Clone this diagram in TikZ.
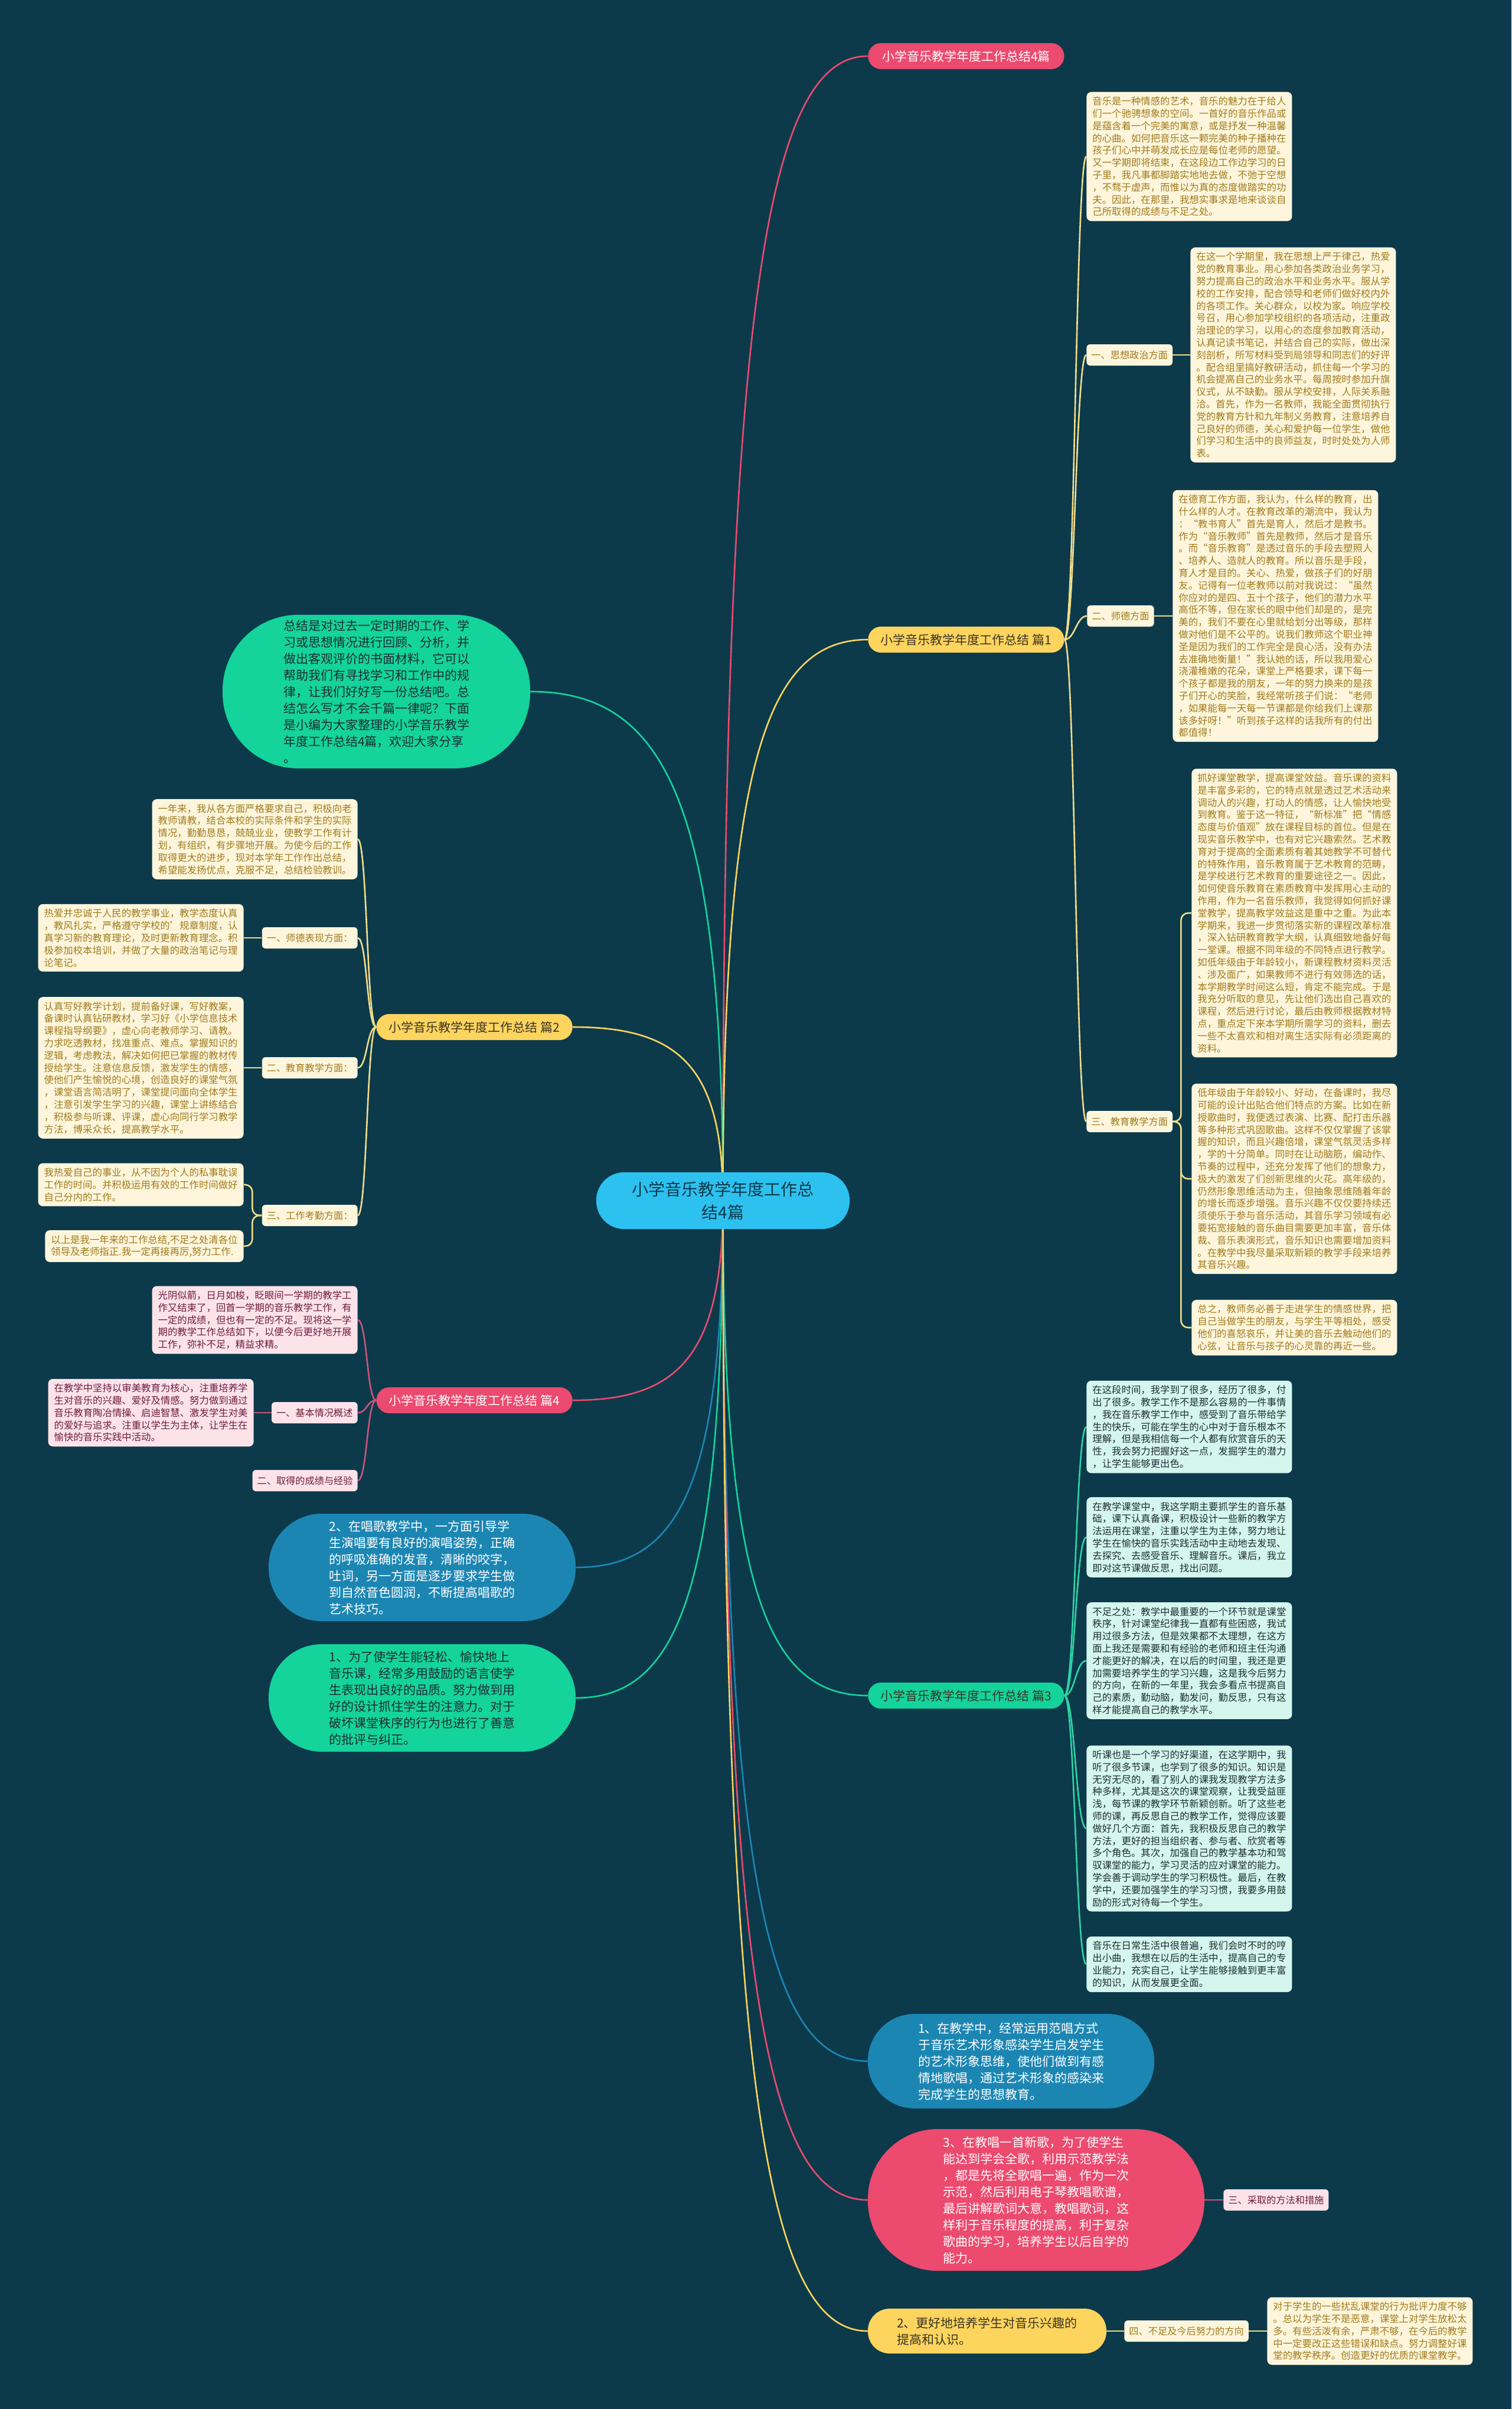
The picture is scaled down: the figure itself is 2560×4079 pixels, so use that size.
\documentclass[tikz,border=0pt]{standalone}
\usepackage{fontspec}
\setmainfont{Noto Sans CJK SC}

\definecolor{bgcol}{HTML}{0C3A4B}
\definecolor{rootcol}{HTML}{2DC1EF}
\definecolor{pinkcol}{HTML}{EC4A6E}
\definecolor{yellowcol}{HTML}{FCD45E}
\definecolor{greencol}{HTML}{14D39B}
\definecolor{bluecol}{HTML}{1C86B3}
\definecolor{creamcol}{HTML}{FEF6DC}
\definecolor{goldtext}{HTML}{A07A1E}
\definecolor{mintcol}{HTML}{D5F6EE}
\definecolor{rosecol}{HTML}{FCE3EA}
\definecolor{maroontext}{HTML}{6E1D3C}
\definecolor{darktext}{HTML}{1D2D33}
\definecolor{brtext}{HTML}{3A3424}
\definecolor{yline}{HTML}{F1DC8A}
\definecolor{pline}{HTML}{C7557A}
\definecolor{gline}{HTML}{2FD3A5}

\newcommand{\rootfont}{\fontsize{14}{19.5}\selectfont}
\newcommand{\brfont}{\fontsize{10.5}{13}\selectfont}
\newcommand{\bubfont}{\fontsize{10.5}{14}\selectfont}
\newcommand{\blkfont}{\fontsize{8.2}{10.4}\selectfont}
\newcommand{\lblfont}{\fontsize{8.1}{10}\selectfont}

\pgfdeclarelayer{bg}
\pgfdeclarelayer{lines}
\pgfsetlayers{bg,lines,main}

\tikzset{
  rootnode/.style={fill=rootcol, text=bgcol, font=\rootfont, align=center, rounded corners=23.5pt, minimum width=214.5pt, minimum height=48pt, inner sep=2pt},
  branchnode/.style={fill=#1, font=\brfont, rounded corners=10.8pt, minimum width=166pt, minimum height=22pt, inner sep=2pt},
  bubble/.style={fill=#1, font=\bubfont, align=left, inner sep=2pt},
  block/.style={fill=#1, font=\blkfont, align=left, inner xsep=5pt, inner ysep=4pt, rounded corners=4pt},
  yblock/.style={block=creamcol, text=goldtext},
  gblock/.style={block=mintcol, text=darktext},
  pblock/.style={block=rosecol, text=maroontext},
  tag/.style={fill=#1, font=\lblfont, inner xsep=4pt, inner ysep=2pt, minimum height=18pt, rounded corners=3pt},
  ytag/.style={tag=creamcol, text=goldtext},
  ptag/.style={tag=rosecol, text=maroontext},
  link/.style={draw=#1, line width=1.3pt},
}

\begin{document}
\begin{tikzpicture}[x=0.5pt,y=0.5pt,yscale=-1]
% page, in pixels of the reference
\useasboundingbox (0,0) rectangle (2560,4079);
\begin{pgfonlayer}{bg}
\fill[bgcol] (0,0) rectangle (2560,4079);
\end{pgfonlayer}

% Root
\node[rootnode] (root) at (1224.5,2033) {小学音乐教学年度工作总\\结4篇};

% Main topics
\node[branchnode=pinkcol, text=white, anchor=west] (top) at (1470,95) {小学音乐教学年度工作总结4篇};
\node[branchnode=yellowcol, text=brtext, anchor=west] (p1) at (1470,1083) {小学音乐教学年度工作总结 篇1};
\node[branchnode=yellowcol, text=brtext, anchor=east] (p2) at (970,1739) {小学音乐教学年度工作总结 篇2};
\node[branchnode=greencol, text=brtext, anchor=west] (p3) at (1470,2871) {小学音乐教学年度工作总结 篇3};
\node[branchnode=pinkcol, text=white, anchor=east] (p4) at (970,2371) {小学音乐教学年度工作总结 篇4};

% Bubbles
\node[bubble=greencol, text=darktext, minimum width=260.5pt, minimum height=130pt, rounded corners=64pt] (intro) at (637.5,1171) {总结是对过去一定时期的工作、学\\习或思想情况进行回顾、分析，并\\做出客观评价的书面材料，它可以\\帮助我们有寻找学习和工作中的规\\律，让我们好好写一份总结吧。总\\结怎么写才不会千篇一律呢？下面\\是小编为大家整理的小学音乐教学\\年度工作总结4篇，欢迎大家分享\\。};
\node[bubble=bluecol, text=white, minimum width=260pt, minimum height=91pt, rounded corners=45pt] (sing) at (715,2654) {2、在唱歌教学中，一方面引导学\\生演唱要有良好的演唱姿势，正确\\的呼吸准确的发音，清晰的咬字，\\吐词，另一方面是逐步要求学生做\\到自然音色圆润，不断提高唱歌的\\艺术技巧。};
\node[bubble=greencol, text=darktext, minimum width=260pt, minimum height=91pt, rounded corners=45pt] (ease) at (715,2875) {1、为了使学生能轻松、愉快地上\\音乐课，经常多用鼓励的语言使学\\生表现出良好的品质。努力做到用\\好的设计抓住学生的注意力。对于\\破坏课堂秩序的行为也进行了善意\\的批评与纠正。};
\node[bubble=bluecol, text=white, minimum width=242.5pt, minimum height=80pt, rounded corners=39.5pt] (demo) at (1712.5,3490) {1、在教学中，经常运用范唱方式\\于音乐艺术形象感染学生启发学生\\的艺术形象思维，使他们做到有感\\情地歌唱，通过艺术形象的感染来\\完成学生的思想教育。};
\node[bubble=pinkcol, text=white, minimum width=285pt, minimum height=120pt, rounded corners=59pt] (teach) at (1755,3725) {3、在教唱一首新歌，为了使学生\\能达到学会全歌，利用示范教学法\\，都是先将全歌唱一遍，作为一次\\示范，然后利用电子琴教唱歌谱，\\最后讲解歌词大意，教唱歌词，这\\样利于音乐程度的提高，利于复杂\\歌曲的学习，培养学生以后自学的\\能力。};
\node[bubble=yellowcol, text=brtext, minimum width=202pt, minimum height=38pt, rounded corners=18.5pt] (interest) at (1672,3947) {2、更好地培养学生对音乐兴趣的\\提高和认识。};

% Topic 1
\node[yblock, anchor=west] (text1) at (1840,265) {音乐是一种情感的艺术，音乐的魅力在于给人\\们一个驰骋想象的空间。一首好的音乐作品或\\是蕴含着一个完美的寓意，或是抒发一种温馨\\的心曲。如何把音乐这一颗完美的种子播种在\\孩子们心中并萌发成长应是每位老师的愿望。\\又一学期即将结束，在这段边工作边学习的日\\子里，我凡事都脚踏实地地去做，不弛于空想\\，不骛于虚声，而惟以为真的态度做踏实的功\\夫。因此，在那里，我想实事求是地来谈谈自\\己所取得的成绩与不足之处。};
\node[ytag, anchor=west] (lbl11) at (1840,601) {一、思想政治方面};
\node[yblock, anchor=west] (text2) at (2016,601) {在这一个学期里，我在思想上严于律己，热爱\\党的教育事业。用心参加各类政治业务学习，\\努力提高自己的政治水平和业务水平。服从学\\校的工作安排，配合领导和老师们做好校内外\\的各项工作。关心群众，以校为家。响应学校\\号召，用心参加学校组织的各项活动，注重政\\治理论的学习，以用心的态度参加教育活动，\\认真记读书笔记，并结合自己的实际，做出深\\刻剖析，所写材料受到局领导和同志们的好评\\。配合组里搞好教研活动，抓住每一个学习的\\机会提高自己的业务水平。每周按时参加升旗\\仪式，从不缺勤。服从学校安排，人际关系融\\洽。首先，作为一名教师，我能全面贯彻执行\\党的教育方针和九年制义务教育，注意培养自\\己良好的师德，关心和爱护每一位学生，做他\\们学习和生活中的良师益友，时时处处为人师\\表。};
\node[ytag, anchor=west] (lbl12) at (1841,1043) {二、师德方面};
\node[yblock, anchor=west] (text3) at (1986,1043) {在德育工作方面，我认为，什么样的教育，出\\什么样的人才。在教育改革的潮流中，我认为\\：“教书育人”首先是育人，然后才是教书。\\作为“音乐教师”首先是教师，然后才是音乐\\。而“音乐教育”是透过音乐的手段去塑照人\\、培养人、造就人的教育。所以音乐是手段，\\育人才是目的。关心、热爱，做孩子们的好朋\\友。记得有一位老教师以前对我说过：“虽然\\你应对的是四、五十个孩子，他们的潜力水平\\高低不等，但在家长的眼中他们却是的，是完\\美的，我们不要在心里就给划分出等级，那样\\做对他们是不公平的。说我们教师这个职业神\\圣是因为我们的工作完全是良心活，没有办法\\去准确地衡量！”我认她的话，所以我用爱心\\浇灌稚嫩的花朵，课堂上严格要求，课下每一\\个孩子都是我的朋友，一年的努力换来的是孩\\子们开心的笑脸，我经常听孩子们说：“老师\\，如果能每一天每一节课都是你给我们上课那\\该多好呀！”听到孩子这样的话我所有的付出\\都值得！};
\node[ytag, anchor=west] (lbl13) at (1840,1899) {三、教育教学方面};
\node[yblock, anchor=west] (text4) at (2018,1546) {抓好课堂教学，提高课堂效益。音乐课的资料\\是丰富多彩的，它的特点就是透过艺术活动来\\调动人的兴趣，打动人的情感，让人愉快地受\\到教育。鉴于这一特征，“新标准”把“情感\\态度与价值观”放在课程目标的首位。但是在\\现实音乐教学中，也有对它兴趣索然。艺术教\\育对于提高的全面素质有着其她教学不可替代\\的特殊作用，音乐教育属于艺术教育的范畴，\\是学校进行艺术教育的重要途径之一。因此，\\如何使音乐教育在素质教育中发挥用心主动的\\作用，作为一名音乐教师，我觉得如何抓好课\\堂教学，提高教学效益这是重中之重。为此本\\学期来，我进一步贯彻落实新的课程改革标准\\，深入钻研教育教学大纲，认真细致地备好每\\一堂课。根据不同年级的不同特点进行教学。\\如低年级由于年龄较小，新课程教材资料灵活\\、涉及面广，如果教师不进行有效筛选的话，\\本学期教学时间这么短，肯定不能完成。于是\\我充分听取的意见，先让他们选出自己喜欢的\\课程，然后进行讨论，最后由教师根据教材特\\点，重点定下来本学期所需学习的资料，删去\\一些不太喜欢和相对离生活实际有必须距离的\\资料。};
\node[yblock, anchor=west] (text5) at (2018,1996) {低年级由于年龄较小、好动，在备课时，我尽\\可能的设计出贴合他们特点的方案。比如在新\\授歌曲时，我便透过表演、比赛、配打击乐器\\等多种形式巩固歌曲。这样不仅仅掌握了该掌\\握的知识，而且兴趣倍增，课堂气氛灵活多样\\，学的十分简单。同时在让动脑筋，编动作、\\节奏的过程中，还充分发挥了他们的想象力，\\极大的激发了们创新思维的火花。高年级的，\\仍然形象思维活动为主，但抽象思维随着年龄\\的增长而逐步增强。音乐兴趣不仅仅要持续还\\须使乐于参与音乐活动，其音乐学习领域有必\\要拓宽接触的音乐曲目需要更加丰富，音乐体\\裁、音乐表演形式，音乐知识也需要增加资料\\。在教学中我尽量采取新颖的教学手段来培养\\其音乐兴趣。};
\node[yblock, anchor=west] (text6) at (2018,2248) {总之，教师务必善于走进学生的情感世界，把\\自己当做学生的朋友，与学生平等相处，感受\\他们的喜怒哀乐，并让美的音乐去触动他们的\\心弦，让音乐与孩子的心灵靠的再近一些。};

% Topic 2
\node[yblock, anchor=east] (text13) at (606,1421) {一年来，我从各方面严格要求自己，积极向老\\教师请教，结合本校的实际条件和学生的实际\\情况，勤勤恳恳，兢兢业业，使教学工作有计\\划，有组织，有步骤地开展。为使今后的工作\\取得更大的进步，现对本学年工作作出总结，\\希望能发扬优点，克服不足，总结检验教训。};
\node[ytag, anchor=east] (lbl21) at (606,1588) {一、师德表现方面：};
\node[yblock, anchor=east] (text14) at (413,1588) {热爱并忠诚于人民的教学事业，教学态度认真\\，教风扎实，严格遵守学校的'规章制度，认\\真学习新的教育理论，及时更新教育理念。积\\极参加校本培训，并做了大量的政治笔记与理\\论笔记。};
\node[ytag, anchor=east] (lbl22) at (606,1808) {二、教育教学方面：};
\node[yblock, anchor=east] (text15) at (413,1808) {认真写好教学计划，提前备好课，写好教案，\\备课时认真钻研教材，学习好《小学信息技术\\课程指导纲要》，虚心向老教师学习、请教。\\力求吃透教材，找准重点、难点。掌握知识的\\逻辑，考虑教法，解决如何把已掌握的教材传\\授给学生。注意信息反馈，激发学生的情感，\\使他们产生愉悦的心境，创造良好的课堂气氛\\，课堂语言简洁明了，课堂提问面向全体学生\\，注意引发学生学习的兴趣，课堂上讲练结合\\，积极参与听课、评课，虚心向同行学习教学\\方法，博采众长，提高教学水平。};
\node[ytag, anchor=east] (lbl23) at (606,2058) {三、工作考勤方面：};
\node[yblock, anchor=east] (text16) at (413,2006) {我热爱自己的事业，从不因为个人的私事耽误\\工作的时间。并积极运用有效的工作时间做好\\自己分内的工作。};
\node[yblock, anchor=east] (text17) at (413,2110) {以上是我一年来的工作总结,不足之处清各位\\领导及老师指正.我一定再接再厉,努力工作.};

% Topic 4
\node[pblock, anchor=east] (text18) at (606,2235) {光阴似箭，日月如梭，眨眼间一学期的教学工\\作又结束了，回首一学期的音乐教学工作，有\\一定的成绩，但也有一定的不足。现将这一学\\期的教学工作总结如下，以便今后更好地开展\\工作，弥补不足，精益求精。};
\node[ptag, anchor=east] (lbl41) at (606,2392) {一、基本情况概述};
\node[pblock, anchor=east] (text19) at (430,2392) {在教学中坚持以审美教育为核心，注重培养学\\生对音乐的兴趣、爱好及情感。努力做到通过\\音乐教育陶冶情操、启迪智慧、激发学生对美\\的爱好与追求。注重以学生为主体，让学生在\\愉快的音乐实践中活动。};
\node[ptag, anchor=east] (lbl42) at (606,2507) {二、取得的成绩与经验};

% Topic 3
\node[gblock, anchor=west] (text7) at (1840,2416) {在这段时间，我学到了很多，经历了很多，付\\出了很多。教学工作不是那么容易的一件事情\\，我在音乐教学工作中，感受到了音乐带给学\\生的快乐，可能在学生的心中对于音乐根本不\\理解，但是我相信每一个人都有欣赏音乐的天\\性，我会努力把握好这一点，发掘学生的潜力\\，让学生能够更出色。};
\node[gblock, anchor=west] (text8) at (1840,2603) {在教学课堂中，我这学期主要抓学生的音乐基\\础，课下认真备课，积极设计一些新的教学方\\法运用在课堂，注重以学生为主体，努力地让\\学生在愉快的音乐实践活动中主动地去发现、\\去探究、去感受音乐、理解音乐。课后，我立\\即对这节课做反思，找出问题。};
\node[gblock, anchor=west] (text9) at (1840,2812) {不足之处：教学中最重要的一个环节就是课堂\\秩序，针对课堂纪律我一直都有些困惑，我试\\用过很多方法，但是效果都不太理想，在这方\\面上我还是需要和有经验的老师和班主任沟通\\才能更好的解决，在以后的时间里，我还是更\\加需要培养学生的学习兴趣，这是我今后努力\\的方向，在新的一年里，我会多看点书提高自\\己的素质，勤动脑，勤发问，勤反思，只有这\\样才能提高自己的教学水平。};
\node[gblock, anchor=west] (text10) at (1840,3096) {听课也是一个学习的好渠道，在这学期中，我\\听了很多节课，也学到了很多的知识。知识是\\无穷无尽的，看了别人的课我发现教学方法多\\种多样，尤其是这次的课堂观察，让我受益匪\\浅，每节课的教学环节新颖创新。听了这些老\\师的课，再反思自己的教学工作，觉得应该要\\做好几个方面：首先，我积极反思自己的教学\\方法，更好的担当组织者、参与者、欣赏者等\\多个角色。其次，加强自己的教学基本功和驾\\驭课堂的能力，学习灵活的应对课堂的能力。\\学会善于调动学生的学习积极性。最后，在教\\学中，还要加强学生的学习习惯，我要多用鼓\\励的形式对待每一个学生。};
\node[gblock, anchor=west] (text11) at (1840,3326) {音乐在日常生活中很普遍，我们会时不时的哼\\出小曲，我想在以后的生活中，提高自己的专\\业能力，充实自己，让学生能够接触到更丰富\\的知识，从而发展更全面。};

% Bottom labels
\node[ptag, anchor=west] (lbl3) at (2072,3725) {三、采取的方法和措施};
\node[ytag, anchor=west] (lbl4) at (1904,3947) {四、不足及今后努力的方向};
\node[yblock, anchor=west] (text12) at (2146,3947) {对于学生的一些扰乱课堂的行为批评力度不够\\。总以为学生不是恶意，课堂上对学生放松太\\多。有些活泼有余，严肃不够，在今后的教学\\中一定要改正这些错误和缺点。努力调整好课\\堂的教学秩序。创造更好的优质的课堂教学。};

\begin{pgfonlayer}{lines}
% root to topics
\draw[link=pinkcol] (root.center) .. controls +(0,-1512) and +(-172,0) .. (top.west);
\draw[link=greencol] (root.center) .. controls +(0,-672) and +(229,0) .. (intro.east);
\draw[link=yellowcol] (root.center) .. controls +(0,-741) and +(-172,0) .. (p1.west);
\draw[link=yellowcol] (root.center) .. controls +(0,-229) and +(178,0) .. (p2.east);
\draw[link=pinkcol] (root.center) .. controls +(0,264) and +(178,0) .. (p4.east);
\draw[link=bluecol] (root.center) .. controls +(0,484) and +(175,0) .. (sing.east);
\draw[link=greencol] (root.center) .. controls +(0,657) and +(175,0) .. (ease.east);
\draw[link=greencol] (root.center) .. controls +(0,654) and +(-172,0) .. (p3.west);
\draw[link=bluecol] (root.center) .. controls +(0,1137) and +(-172,0) .. (demo.west);
\draw[link=pinkcol] (root.center) .. controls +(0,1318) and +(-172,0) .. (teach.west);
\draw[link=yellowcol] (root.center) .. controls +(0,1492) and +(-172,0) .. (interest.west);

% topic 1
\foreach \k in {text1,lbl11,lbl12,lbl13}
  \draw[link=yline] (p1.east) .. controls +(18,0) and +(-18,0) .. (\k.west);
\draw[link=yline] (lbl11.east) -- (text2.west);
\draw[link=yline] (lbl12.east) -- (text3.west);
\foreach \k in {text4,text5,text6}
  \draw[link=yline, rounded corners=6pt] (lbl13.east) -- ++(14,0) |- (\k.west);

% topic 2
\foreach \k in {text13,lbl21,lbl22,lbl23}
  \draw[link=yline] (p2.west) .. controls +(-16,0) and +(16,0) .. (\k.east);
\draw[link=yline] (lbl21.west) -- (text14.east);
\draw[link=yline] (lbl22.west) -- (text15.east);
\foreach \k in {text16,text17}
  \draw[link=yline, rounded corners=6pt] (lbl23.west) -- ++(-16,0) |- (\k.east);

% topic 4
\foreach \k in {text18,lbl41,lbl42}
  \draw[link=pline] (p4.west) .. controls +(-16,0) and +(16,0) .. (\k.east);
\draw[link=pline] (lbl41.west) -- (text19.east);

% topic 3
\foreach \k in {text7,text8,text9,text10,text11}
  \draw[link=gline] (p3.east) .. controls +(18,0) and +(-18,0) .. (\k.west);

% bubbles
\draw[link=pline] (teach.east) -- (lbl3.west);
\draw[link=yline] (interest.east) -- (lbl4.west);
\draw[link=yline] (lbl4.east) -- (text12.west);
\end{pgfonlayer}
\end{tikzpicture}
\end{document}
